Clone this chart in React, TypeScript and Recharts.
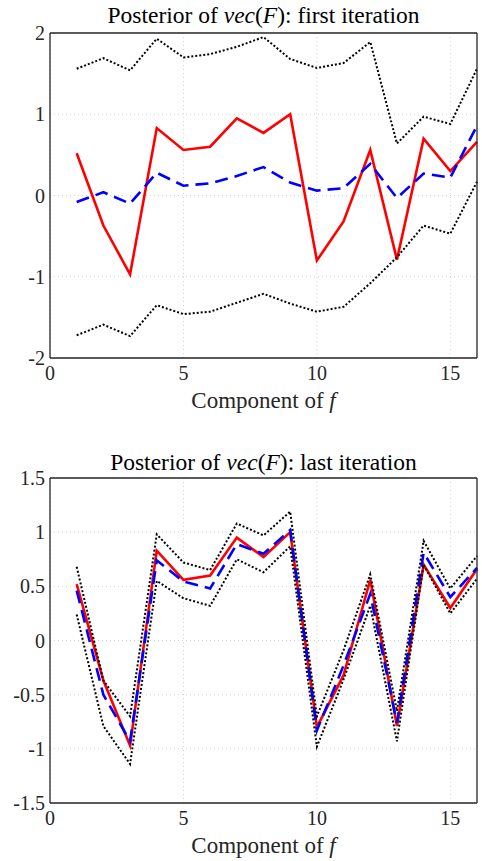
import { CartesianGrid, Line, LineChart, XAxis, YAxis } from "recharts"

const components = [1, 2, 3, 4, 5, 6, 7, 8, 9, 10, 11, 12, 13, 14, 15, 16]
const xTicks = [0, 5, 10, 15]

// true values of vec(F), same in both panels
const truth = [0.52, -0.37, -0.97, 0.83, 0.56, 0.6, 0.95, 0.77, 1.0, -0.8, -0.32, 0.56, -0.79, 0.7, 0.3, 0.66]

const firstMean = [-0.08, 0.04, -0.1, 0.28, 0.12, 0.15, 0.24, 0.35, 0.16, 0.06, 0.09, 0.39, -0.03, 0.27, 0.22, 0.86]
const firstUpper = [1.56, 1.69, 1.54, 1.93, 1.7, 1.74, 1.83, 1.95, 1.68, 1.57, 1.63, 1.89, 0.64, 0.97, 0.88, 1.56]
const firstLower = [-1.72, -1.59, -1.73, -1.35, -1.46, -1.43, -1.32, -1.21, -1.33, -1.43, -1.37, -1.08, -0.76, -0.37, -0.47, 0.17]
const firstTicks = [-2, -1, 0, 1, 2]

const lastMean = [0.46, -0.5, -0.93, 0.74, 0.545, 0.48, 0.89, 0.8, 1.02, -0.83, -0.23, 0.43, -0.76, 0.81, 0.4, 0.67]
const lastUpper = [0.68, -0.37, -0.7, 0.98, 0.72, 0.65, 1.08, 0.97, 1.19, -0.7, -0.09, 0.61, -0.65, 0.92, 0.48, 0.78]
const lastLower = [0.24, -0.79, -1.14, 0.55, 0.39, 0.32, 0.75, 0.63, 0.87, -0.98, -0.36, 0.32, -0.93, 0.7, 0.25, 0.57]
const lastTicks = [-1.5, -1, -0.5, 0, 0.5, 1, 1.5]

const axisColor = "#262626"
const font = "'Liberation Serif', serif"

type PanelProps = {
  mean: number[]
  upper: number[]
  lower: number[]
  yTicks: number[]
  height: number
  marginTop: number
  xAxisHeight: number
}

function Panel({ mean, upper, lower, yTicks, height, marginTop, xAxisHeight }: PanelProps) {
  const data = components.map((c, i) => ({
    c,
    truth: truth[i],
    mean: mean[i],
    upper: upper[i],
    lower: lower[i],
  }))
  const yDomain = [yTicks[0], yTicks[yTicks.length - 1]]
  const tickStyle = { fontSize: 20, fill: axisColor, fontFamily: font }
  const edge = { stroke: axisColor, strokeWidth: 1.3 }

  return (
    <LineChart width={482} height={height} data={data} margin={{ top: marginTop, right: 5, bottom: 0, left: 0 }}>
      <CartesianGrid stroke="#d4d4d4" strokeDasharray="1 3" verticalValues={xTicks} horizontalValues={yTicks} />
      <XAxis
        dataKey="c"
        type="number"
        domain={[0, 16]}
        ticks={xTicks}
        height={xAxisHeight}
        tickLine={false}
        tickSize={0}
        tickMargin={8}
        tick={tickStyle}
        axisLine={edge}
      />
      <XAxis xAxisId="bm" dataKey="c" type="number" domain={[0, 16]} ticks={xTicks} mirror tick={false} tickSize={8} axisLine={false} tickLine={edge} />
      <XAxis xAxisId="top" orientation="top" dataKey="c" type="number" domain={[0, 16]} ticks={xTicks} mirror tick={false} tickSize={8} axisLine={edge} tickLine={edge} />
      <YAxis
        type="number"
        domain={yDomain}
        ticks={yTicks}
        width={50}
        tickLine={false}
        tickSize={0}
        tickMargin={5}
        tick={tickStyle}
        axisLine={edge}
      />
      <YAxis yAxisId="lm" type="number" domain={yDomain} ticks={yTicks} mirror tick={false} tickSize={8} axisLine={false} tickLine={edge} />
      <YAxis yAxisId="r" orientation="right" type="number" domain={yDomain} ticks={yTicks} mirror tick={false} tickSize={8} axisLine={edge} tickLine={edge} />
      <Line dataKey="truth" stroke="#ff0000" strokeWidth={2.6} dot={false} isAnimationActive={false} />
      <Line dataKey="mean" stroke="#0000ff" strokeWidth={2.6} strokeDasharray="13 7" dot={false} isAnimationActive={false} />
      <Line dataKey="upper" stroke="#000000" strokeWidth={2} strokeDasharray="2 2" dot={false} isAnimationActive={false} />
      <Line dataKey="lower" stroke="#000000" strokeWidth={2} strokeDasharray="2 2" dot={false} isAnimationActive={false} />
    </LineChart>
  )
}

export default function App() {
  const titleStyle = { fontFamily: font, fontSize: 23.5, fill: "#000" }
  const labelStyle = { fontFamily: font, fontSize: 23, fill: axisColor }
  return (
    <div style={{ position: "absolute", left: 0, top: 0, width: 482, height: 861, background: "#fff" }}>
      <div style={{ position: "absolute", left: 0, top: 0 }}>
        <Panel mean={firstMean} upper={firstUpper} lower={firstLower} yTicks={firstTicks} height={430} marginTop={33} xAxisHeight={72} />
      </div>
      <div style={{ position: "absolute", left: 0, top: 430 }}>
        <Panel mean={lastMean} upper={lastUpper} lower={lastLower} yTicks={lastTicks} height={431} marginTop={48} xAxisHeight={58} />
      </div>
      <svg width={482} height={861} style={{ position: "absolute", left: 0, top: 0, pointerEvents: "none" }}>
        <text x={263.5} y={23} textAnchor="middle" style={titleStyle}>
          Posterior of <tspan fontStyle="italic">vec</tspan>(<tspan fontStyle="italic">F</tspan>): first iteration
        </text>
        <text x={263.5} y={408} textAnchor="middle" style={labelStyle}>
          Component of <tspan fontStyle="italic">f</tspan>
        </text>
        <text x={263.5} y={470} textAnchor="middle" style={titleStyle}>
          Posterior of <tspan fontStyle="italic">vec</tspan>(<tspan fontStyle="italic">F</tspan>): last iteration
        </text>
        <text x={263.5} y={853} textAnchor="middle" style={labelStyle}>
          Component of <tspan fontStyle="italic">f</tspan>
        </text>
      </svg>
    </div>
  )
}
